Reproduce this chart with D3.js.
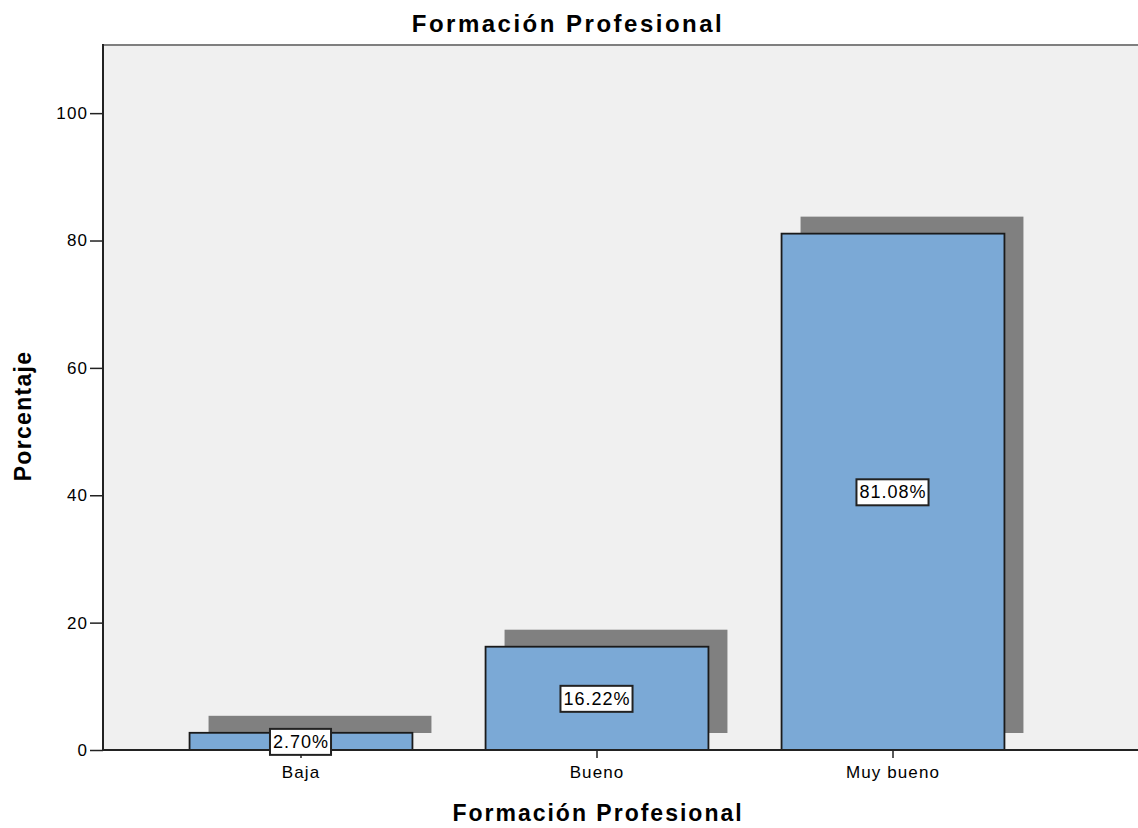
<!DOCTYPE html>
<html>
<head>
<meta charset="utf-8">
<script src="https://cdn.jsdelivr.net/npm/d3@7"></script>
<style>
  body { margin: 0; background: #fff; }
  text { font-family: "Liberation Sans", Arial, sans-serif; fill: #000; }
</style>
</head>
<body>
<script>
// bar chart of porcentaje by formación profesional

const categories = ["Baja", "Bueno", "Muy bueno"];
const percents = [2.70, 16.22, 81.08];
const yTicks = [0, 20, 40, 60, 80, 100];
const labels = ["2.70%", "16.22%", "81.08%"];

const width = 1138;
const height = 828;

const svg = d3.select("body")
    .append("svg")
    .attr("width", width)
    .attr("height", height);

// plot frame
const plotLeft = 103, plotTop = 45, plotBottom = 750, plotRight = 1160;

const xScale = d3.scaleBand()
    .domain(categories)
    .range([153, 1041])
    .paddingInner(0.247)
    .paddingOuter(0.1235);

const yScale = d3.scaleLinear()
    .domain([0, 110.7])
    .range([plotBottom, plotTop]);

svg.append("rect")
    .attr("x", plotLeft)
    .attr("y", plotTop)
    .attr("width", plotRight - plotLeft)
    .attr("height", plotBottom - plotTop)
    .attr("fill", "#f0f0f0");

// top border
svg.append("line")
    .attr("x1", plotLeft).attr("x2", plotRight)
    .attr("y1", plotTop).attr("y2", plotTop)
    .attr("stroke", "#7f7f7f")
    .attr("stroke-width", 2);

// shadows
const dx = 19, dy = -17;
svg.selectAll(".shadow")
    .data(percents)
    .join("rect")
    .attr("class", "shadow")
    .attr("x", (d, i) => xScale(categories[i]) + dx)
    .attr("y", d => yScale(d) + dy)
    .attr("width", xScale.bandwidth())
    .attr("height", d => plotBottom - yScale(d))
    .attr("fill", "#808080");

// bars
svg.selectAll(".bar")
    .data(percents)
    .join("rect")
    .attr("class", "bar")
    .attr("x", (d, i) => xScale(categories[i]))
    .attr("y", d => yScale(d))
    .attr("width", xScale.bandwidth())
    .attr("height", d => plotBottom - yScale(d))
    .attr("fill", "#7ba9d6")
    .attr("stroke", "#1a1a1a")
    .attr("stroke-width", 1.8);

// y axis
const yAxis = svg.append("g")
    .attr("transform", `translate(${plotLeft},0)`)
    .call(d3.axisLeft(yScale).tickValues(yTicks).tickSize(13).tickSizeOuter(0));
yAxis.select(".domain").remove();
yAxis.selectAll(".tick line").attr("stroke", "#222").attr("stroke-width", 1.5);
yAxis.selectAll(".tick text")
    .attr("x", -15)
    .style("font-size", "17px")
    .style("letter-spacing", "1.1px")
    .style("font-family", "Liberation Sans, Arial, sans-serif");
svg.append("line")
    .attr("x1", plotLeft).attr("x2", plotLeft)
    .attr("y1", plotTop - 1).attr("y2", plotBottom)
    .attr("stroke", "#222").attr("stroke-width", 2);

// x axis
const xAxis = svg.append("g")
    .attr("transform", `translate(0,${plotBottom})`)
    .call(d3.axisBottom(xScale).tickSize(8).tickSizeOuter(0));
xAxis.select(".domain").remove();
xAxis.selectAll(".tick line").attr("stroke", "#222").attr("stroke-width", 1.5);
xAxis.selectAll(".tick text")
    .attr("y", 16)
    .style("font-size", "17px")
    .style("letter-spacing", "1.1px")
    .style("font-family", "Liberation Sans, Arial, sans-serif");
svg.append("line")
    .attr("x1", plotLeft).attr("x2", plotRight)
    .attr("y1", plotBottom).attr("y2", plotBottom)
    .attr("stroke", "#222").attr("stroke-width", 2);

// value labels in boxes
const lab = svg.selectAll(".lab")
    .data(percents)
    .join("g")
    .attr("class", "lab")
    .attr("transform", (d, i) =>
        `translate(${xScale(categories[i]) + xScale.bandwidth() / 2},${yScale(d / 2)})`);
lab.append("text")
    .attr("text-anchor", "middle")
    .attr("dy", "0.36em")
    .style("font-size", "18px")
    .style("letter-spacing", "1px")
    .text((d, i) => labels[i]);
lab.each(function () {
    const g = d3.select(this);
    const bb = g.select("text").node().getBBox();
    g.insert("rect", "text")
        .attr("x", bb.x - 3)
        .attr("y", bb.y - 3)
        .attr("width", bb.width + 5)
        .attr("height", bb.height + 6)
        .attr("fill", "#fff")
        .attr("stroke", "#222")
        .attr("stroke-width", 2);
});

// titles
svg.append("text")
    .attr("x", 568)
    .attr("y", 32)
    .attr("text-anchor", "middle")
    .style("font-size", "24px")
    .style("font-weight", "bold")
    .style("letter-spacing", "2.5px")
    .text("Formación Profesional");

svg.append("text")
    .attr("x", 598)
    .attr("y", 821)
    .attr("text-anchor", "middle")
    .style("font-size", "23px")
    .style("font-weight", "bold")
    .style("letter-spacing", "2px")
    .text("Formación Profesional");

svg.append("text")
    .attr("transform", "translate(31,416) rotate(-90)")
    .attr("text-anchor", "middle")
    .style("font-size", "23px")
    .style("font-weight", "bold")
    .style("letter-spacing", "1.3px")
    .text("Porcentaje");
</script>
</body>
</html>
